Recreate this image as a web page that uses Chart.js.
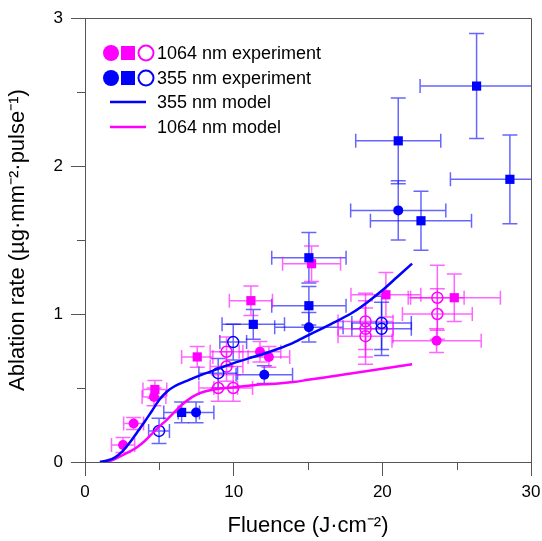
<!DOCTYPE html>
<html>
<head>
<meta charset="utf-8">
<script src="https://cdn.jsdelivr.net/npm/chart.js@4.4.1/dist/chart.umd.min.js"></script>
<style>
  html, body { margin: 0; padding: 0; background: #fff; }
</style>
</head>
<body>
<canvas id="myChart" width="542" height="541"></canvas>
<script>
// points : [fluence, rate, x error, y error]
var magCircles = [[2.56,0.115,0.78,0.05],[3.27,0.26,0.67,0.04],[4.64,0.44,0.8,0.06],[11.77,0.745,1.4,0.07],[12.37,0.71,1.4,0.07],[23.65,0.82,3.0,0.08]];
var magSquares = [[4.7,0.49,0.8,0.06],[7.55,0.71,1.05,0.07],[11.16,1.09,1.45,0.1],[15.24,1.34,1.95,0.12],[20.24,1.13,2.35,0.15],[24.84,1.11,3.1,0.16]];
var magOpen = [[8.96,0.50,1.3,0.09],[9.97,0.50,1.3,0.09],[9.52,0.645,1.1,0.1],[9.52,0.745,1.1,0.1],[18.87,0.85,1.85,0.19],[18.87,0.90,1.85,0.19],[18.87,0.95,1.85,0.19],[23.7,1.0,2.35,0.17],[23.7,1.11,1.8,0.22]];
var blueCircles = [[7.47,0.335,1.2,0.07],[12.06,0.59,1.9,0.06],[15.06,0.91,2.3,0.1],[21.07,1.70,3.2,0.2]];
var blueSquares = [[6.5,0.335,1.2,0.07],[11.32,0.93,2.1,0.1],[15.06,1.056,2.5,0.13],[15.06,1.38,2.5,0.17],[21.07,2.17,2.86,0.29],[22.6,1.63,3.4,0.2],[26.34,2.54,3.8,0.355],[28.58,1.91,4.0,0.30]];
var blueOpen = [[4.98,0.21,0.7,0.085],[8.96,0.60,1.3,0.1],[9.97,0.81,0.9,0.12],[19.95,0.90,2.0,0.18],[19.95,0.94,2.0,0.18]];

// model curves
var model355X = [1.0,1.5,2,2.5,3,3.5,4,4.5,5,5.5,6,7,8,9,10,11,12,13,14,15,16,17,18,19,20,21,22];
var model355Y = [0,0.01,0.03,0.07,0.13,0.2,0.27,0.345,0.42,0.475,0.51,0.555,0.595,0.632,0.668,0.70,0.73,0.765,0.805,0.855,0.905,0.955,1.01,1.08,1.16,1.25,1.34];
var model1064X = [1.5,2,2.5,3,3.5,4,4.5,5,5.5,6,6.5,7,7.5,8,9,10,11,12,13,14,15,16,17,18,19,20,21,22];
var model1064Y = [0,0.02,0.045,0.07,0.1,0.14,0.19,0.24,0.285,0.335,0.385,0.425,0.455,0.475,0.495,0.505,0.515,0.525,0.53,0.54,0.555,0.57,0.585,0.6,0.615,0.63,0.645,0.66];

var xTicksMinor = [5, 15, 25];
var yTicksMinor = [0.5, 1.5, 2.5];
var legendLabels = ['1064 nm experiment', '355 nm experiment', '355 nm model', '1064 nm model'];

var MAG = '#ff00ff', BLUE = '#0000ff';
var MAG_ERR = 'rgba(255,0,255,0.6)', BLUE_ERR = 'rgba(0,0,255,0.6)';

function pts(arr) {
    return arr.map(function (p) { return { x: p[0], y: p[1], dx: p[2], dy: p[3] }; });
}
function curve(xs, ys) {
    return xs.map(function (x, i) { return { x: x, y: ys[i] }; });
}

Chart.defaults.font.family = "'Liberation Sans', Arial, sans-serif";
Chart.defaults.color = '#000';

// error bars, drawn under the markers
var errorBars = {
    id: 'errorBars',
    beforeDatasetsDraw: function (chart) {
        var ctx = chart.ctx, xs = chart.scales.x, ys = chart.scales.y, a = chart.chartArea;
        ctx.save();
        ctx.beginPath();
        ctx.rect(a.left, a.top, a.right - a.left, a.bottom - a.top);
        ctx.clip();
        ctx.lineWidth = 1.5;
        chart.data.datasets.forEach(function (ds) {
            if (!ds.errColor) return;
            ctx.strokeStyle = ds.errColor;
            ds.data.forEach(function (p) {
                var px = xs.getPixelForValue(p.x), py = ys.getPixelForValue(p.y);
                var x1 = xs.getPixelForValue(p.x - p.dx), x2 = xs.getPixelForValue(p.x + p.dx);
                var y1 = ys.getPixelForValue(p.y + p.dy), y2 = ys.getPixelForValue(p.y - p.dy);
                ctx.beginPath();
                ctx.moveTo(x1, py); ctx.lineTo(x2, py);
                ctx.moveTo(x1, py - 7); ctx.lineTo(x1, py + 7);
                ctx.moveTo(x2, py - 7); ctx.lineTo(x2, py + 7);
                ctx.moveTo(px, y1); ctx.lineTo(px, y2);
                ctx.moveTo(px - 7.5, y1); ctx.lineTo(px + 7.5, y1);
                ctx.moveTo(px - 7.5, y2); ctx.lineTo(px + 7.5, y2);
                ctx.stroke();
            });
        });
        ctx.restore();
    }
};

// frame, minor ticks and legend
var decor = {
    id: 'decor',
    afterDraw: function (chart) {
        var ctx = chart.ctx, xs = chart.scales.x, ys = chart.scales.y, a = chart.chartArea;
        ctx.save();
        ctx.strokeStyle = '#555';
        ctx.lineWidth = 1;
        ctx.beginPath();
        ctx.moveTo(a.left, a.top + 0.5); ctx.lineTo(a.right + 0.5, a.top + 0.5);
        ctx.lineTo(a.right + 0.5, a.bottom);
        xTicksMinor.forEach(function (v) {
            var x = Math.round(xs.getPixelForValue(v)) + 0.5;
            ctx.moveTo(x, a.bottom); ctx.lineTo(x, a.bottom + 8);
        });
        yTicksMinor.forEach(function (v) {
            var y = Math.round(ys.getPixelForValue(v)) + 0.5;
            ctx.moveTo(a.left - 8, y); ctx.lineTo(a.left, y);
        });
        ctx.stroke();

        // legend
        var rows = [53, 78, 102, 127];
        var cols = [MAG, BLUE];
        for (var r = 0; r < 2; r++) {
            var y = rows[r];
            ctx.fillStyle = cols[r];
            ctx.beginPath(); ctx.arc(111, y, 8, 0, Math.PI * 2); ctx.fill();
            ctx.fillRect(121, y - 7, 14, 14);
            ctx.strokeStyle = cols[r]; ctx.lineWidth = 2;
            ctx.beginPath(); ctx.arc(146, y, 7.5, 0, Math.PI * 2); ctx.stroke();
        }
        ctx.lineWidth = 2.5;
        ctx.strokeStyle = BLUE;
        ctx.beginPath(); ctx.moveTo(110, rows[2]); ctx.lineTo(146, rows[2]); ctx.stroke();
        ctx.strokeStyle = MAG;
        ctx.beginPath(); ctx.moveTo(110, rows[3]); ctx.lineTo(146, rows[3]); ctx.stroke();
        ctx.fillStyle = '#000';
        ctx.font = "18px 'Liberation Sans', Arial, sans-serif";
        ctx.textBaseline = 'middle';
        legendLabels.forEach(function (t, i) {
            ctx.fillText(t, 157, rows[i] + 1);
        });
        ctx.restore();
    }
};

const ctx = document.getElementById('myChart').getContext('2d');
const myChart = new Chart(ctx, {
    type: 'scatter',
    data: {
        datasets: [{
            label: '355 nm model',
            data: curve(model355X, model355Y),
            showLine: true,
            borderColor: BLUE,
            borderWidth: 2.5,
            pointRadius: 0,
            cubicInterpolationMode: 'monotone'
        }, {
            label: '1064 nm model',
            data: curve(model1064X, model1064Y),
            showLine: true,
            borderColor: MAG,
            borderWidth: 2.5,
            pointRadius: 0,
            cubicInterpolationMode: 'monotone'
        }, {
            data: pts(blueCircles), errColor: BLUE_ERR,
            pointStyle: 'circle', pointRadius: 5, backgroundColor: BLUE, borderColor: BLUE, borderWidth: 0
        }, {
            data: pts(blueSquares), errColor: BLUE_ERR,
            pointStyle: 'rect', pointRadius: 6.5, backgroundColor: BLUE, borderColor: BLUE, borderWidth: 0
        }, {
            data: pts(blueOpen), errColor: BLUE_ERR,
            pointStyle: 'circle', pointRadius: 5.5, backgroundColor: 'rgba(0,0,0,0)', borderColor: BLUE, borderWidth: 1.5
        }, {
            data: pts(magCircles), errColor: MAG_ERR,
            pointStyle: 'circle', pointRadius: 5, backgroundColor: MAG, borderColor: MAG, borderWidth: 0
        }, {
            data: pts(magSquares), errColor: MAG_ERR,
            pointStyle: 'rect', pointRadius: 6.5, backgroundColor: MAG, borderColor: MAG, borderWidth: 0
        }, {
            data: pts(magOpen), errColor: MAG_ERR,
            pointStyle: 'circle', pointRadius: 5.5, backgroundColor: 'rgba(0,0,0,0)', borderColor: MAG, borderWidth: 1.5
        }]
    },
    options: {
        responsive: false,
        animation: false,
        layout: { padding: { top: 18, right: 11, left: 0, bottom: 0 } },
        plugins: {
            legend: { display: false },
            tooltip: { enabled: false }
        },
        scales: {
            x: {
                type: 'linear',
                min: 0, max: 30,
                afterFit: function (s) { s.height = 79; s.paddingLeft = 0; s.paddingRight = 0; },
                ticks: { stepSize: 10, font: { size: 17 }, padding: 6, maxRotation: 0 },
                grid: { drawOnChartArea: false, tickLength: 14, tickColor: '#555' },
                border: { color: '#555' },
                title: { display: true, text: 'Fluence (J·cm⁻²)', font: { size: 22 }, padding: { top: 0, bottom: 2 } }
            },
            y: {
                type: 'linear',
                min: 0, max: 3,
                afterFit: function (s) { s.width = 85; s.paddingTop = 0; s.paddingBottom = 0; },
                ticks: { stepSize: 1, font: { size: 17 }, padding: 8 },
                grid: { drawOnChartArea: false, tickLength: 14, tickColor: '#555' },
                border: { color: '#555' },
                title: { display: true, text: 'Ablation rate (µg·mm⁻²·pulse⁻¹)', font: { size: 22 }, padding: { top: 5, bottom: 0 } }
            }
        }
    },
    plugins: [errorBars, decor]
});
</script>
</body>
</html>
